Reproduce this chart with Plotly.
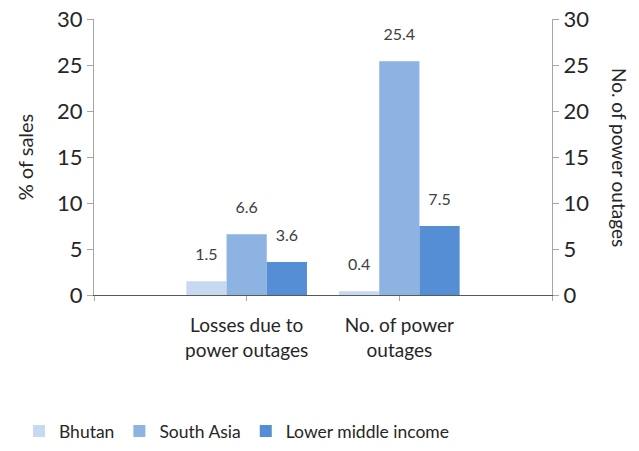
import plotly.graph_objects as go

# data
categories = ["Losses due to<br>power outages", "No. of power<br>outages"]
cat_pos = [1, 2]
series = ["Bhutan", "South Asia", "Lower middle income"]
bhutan = [1.5, 0.4]
south_asia = [6.6, 25.4]
lower_middle = [3.6, 7.5]

COLORS = ["#c6d9f1", "#8db3e2", "#558ed5"]
FONT = "Lato, 'Open Sans', sans-serif"
TEXT = "#262626"

fig = go.Figure()
for name, vals, col in zip(series, [bhutan, south_asia, lower_middle], COLORS):
    fig.add_trace(
        go.Bar(
            x=cat_pos,
            y=vals,
            name=name,
            marker=dict(color=col, line=dict(width=0)),
        )
    )

# value labels: text-only scatter traces grouped like the bars
for name, vals in zip(series, [bhutan, south_asia, lower_middle]):
    fig.add_trace(
        go.Scatter(
            x=cat_pos,
            y=vals,
            mode="markers+text",
            text=[str(v) for v in vals],
            textposition="top center",
            marker=dict(size=26, opacity=0),
            textfont=dict(size=16, color="#404040", family=FONT),
            cliponaxis=False,
            showlegend=False,
            hoverinfo="skip",
        )
    )

# invisible trace so the secondary axis is drawn
fig.add_trace(go.Scatter(x=[0], y=[0], yaxis="y2", mode="markers",
                         marker=dict(opacity=0), showlegend=False, hoverinfo="skip"))

fig.update_layout(
    width=639,
    height=451,
    margin=dict(l=94, r=87, t=19, b=156),
    paper_bgcolor="white",
    plot_bgcolor="white",
    font=dict(family=FONT, color=TEXT),
    barmode="group",
    bargap=0.21,
    bargroupgap=0,
    scattermode="group",
    scattergap=0.21,
    xaxis=dict(
        range=[0, 3],
        tickvals=[0, 1, 2, 3],
        ticktext=[""] + categories + [""],
        tickfont=dict(size=19, color=TEXT),
        tickangle=0,
        ticks="outside",
        ticklen=5,
        tickcolor="#a6a6a6",
        ticklabelstandoff=8,
        showline=True,
        linecolor="#595959",
        linewidth=1,
        showgrid=False,
        zeroline=False,
        fixedrange=True,
        automargin=False,
    ),
    yaxis=dict(
        range=[0, 30],
        dtick=5,
        tickfont=dict(size=22, color=TEXT),
        ticks="outside",
        ticklen=6,
        tickcolor="#a6a6a6",
        showline=True,
        linecolor="#a6a6a6",
        linewidth=1,
        showgrid=False,
        zeroline=False,
        automargin=False,
        ticklabeloverflow="allow",
        title=dict(text="% of sales", font=dict(size=20, color=TEXT), standoff=18),
    ),
    yaxis2=dict(
        range=[0, 30],
        dtick=5,
        overlaying="y",
        side="right",
        tickfont=dict(size=22, color=TEXT),
        ticks="outside",
        ticklen=6,
        tickcolor="#a6a6a6",
        showline=True,
        linecolor="#a6a6a6",
        linewidth=1,
        showgrid=False,
        zeroline=False,
        automargin=False,
        ticklabeloverflow="allow",
    ),
    legend=dict(
        orientation="h",
        xref="container",
        yref="container",
        x=0.0297,
        y=0.004,
        xanchor="left",
        yanchor="bottom",
        font=dict(size=17.5, color=TEXT),
        itemwidth=30,
        traceorder="normal",
    ),
    showlegend=True,
)

fig.add_annotation(
    text="No. of power outages",
    xref="paper",
    yref="paper",
    x=1.0,
    y=0.5,
    xshift=68,
    xanchor="center",
    yanchor="middle",
    textangle=90,
    showarrow=False,
    font=dict(size=19, color=TEXT),
)

# drop the default 8px body margin so the figure fills the window
fig.write_html(
    "out.html",
    config={"displayModeBar": False},
    post_script="document.body.style.margin='0';",
)
